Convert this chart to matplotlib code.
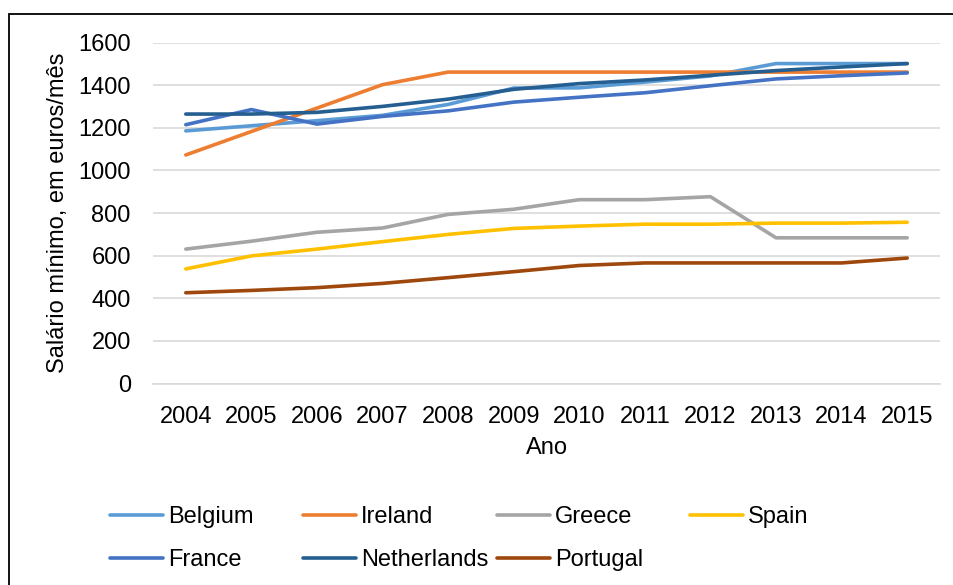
import matplotlib
matplotlib.use("Agg")
import matplotlib.pyplot as plt
from matplotlib.patches import Rectangle

years = ["2004", "2005", "2006", "2007", "2008", "2009", "2010", "2011", "2012", "2013", "2014", "2015"]

belgium     = [1186, 1210, 1234, 1259, 1310, 1387, 1388, 1415, 1444, 1502, 1502, 1502]
ireland     = [1073, 1183, 1293, 1403, 1462, 1462, 1462, 1462, 1462, 1462, 1462, 1462]
greece      = [631, 668, 710, 730, 794, 818, 863, 863, 877, 684, 684, 684]
spain       = [538, 599, 631, 666, 700, 728, 739, 748, 748, 753, 753, 757]
france      = [1215, 1286, 1218, 1254, 1280, 1321, 1344, 1365, 1398, 1430, 1445, 1458]
netherlands = [1265, 1265, 1273, 1301, 1335, 1381, 1408, 1425, 1447, 1469, 1486, 1502]
portugal    = [426, 437, 450, 470, 497, 525, 554, 566, 566, 566, 566, 589]

series_names = ["Belgium", "Ireland", "Greece", "Spain", "France", "Netherlands", "Portugal"]
series_values = [belgium, ireland, greece, spain, france, netherlands, portugal]
colors = ["#5B9BD5", "#ED7D31", "#A5A5A5", "#FFC000", "#4472C4", "#255E91", "#9E480E"]

yticks = [0, 200, 400, 600, 800, 1000, 1200, 1400, 1600]

FS = 17
plt.rcParams['font.family'] = ['Liberation Sans', 'DejaVu Sans']
plt.rcParams['font.size'] = FS

W, H = 954, 585
fig = plt.figure(figsize=(W / 100, H / 100), dpi=100)
ax = fig.add_axes([153 / W, (H - 383.5) / H, (940 - 153) / W, (383.5 - 42.7) / H])

x = list(range(len(years)))
lines = {}
for name, vals, c in zip(series_names, series_values, colors):
    ln, = ax.plot(x, vals, color=c, lw=2.6, solid_capstyle='round', solid_joinstyle='round', label=name)
    lines[name] = ln

ax.set_xlim(-0.5, len(years) - 0.5)
ax.set_ylim(0, 1600)
ax.set_yticks(yticks)
ax.set_yticklabels([str(v) for v in yticks])
ax.set_xticks(x)
ax.set_xticklabels(years)
ax.tick_params(axis='both', length=0, labelsize=FS, colors='#000000')
ax.tick_params(axis='y', pad=16)
ax.tick_params(axis='x', pad=16)
ax.yaxis.grid(True, color='#D9D9D9', lw=1.2)
ax.set_axisbelow(True)
for s in ['top', 'right', 'left']:
    ax.spines[s].set_visible(False)
ax.spines['bottom'].set_color('#D9D9D9')
ax.spines['bottom'].set_linewidth(1.2)

fig.text(58 / W, 1 - 213 / H, "Salário mínimo, em euros/mês", rotation=90, ha='center', va='center', fontsize=FS)
fig.text(547 / W, 1 - 448 / H, "Ano", ha='center', va='center', fontsize=FS)

columns = [["Belgium", "France"], ["Ireland", "Netherlands"], ["Greece", "Portugal"], ["Spain"]]
col_x = [110, 303, 497, 690]
for names, cx in zip(columns, col_x):
    fig.legend([lines[n] for n in names], names, loc='upper left',
               bbox_to_anchor=(cx / W, 1 - 506 / H), frameon=False, borderpad=0,
               borderaxespad=0, handlelength=2.25, handletextpad=0.2,
               labelspacing=0.88, fontsize=FS)

fig.patches.append(Rectangle((9 / W, -0.1), 1.2, (H - 13.5) / H + 0.1, transform=fig.transFigure,
                             fill=False, edgecolor='black', lw=1.3))

fig.savefig("out.png", dpi=100)
